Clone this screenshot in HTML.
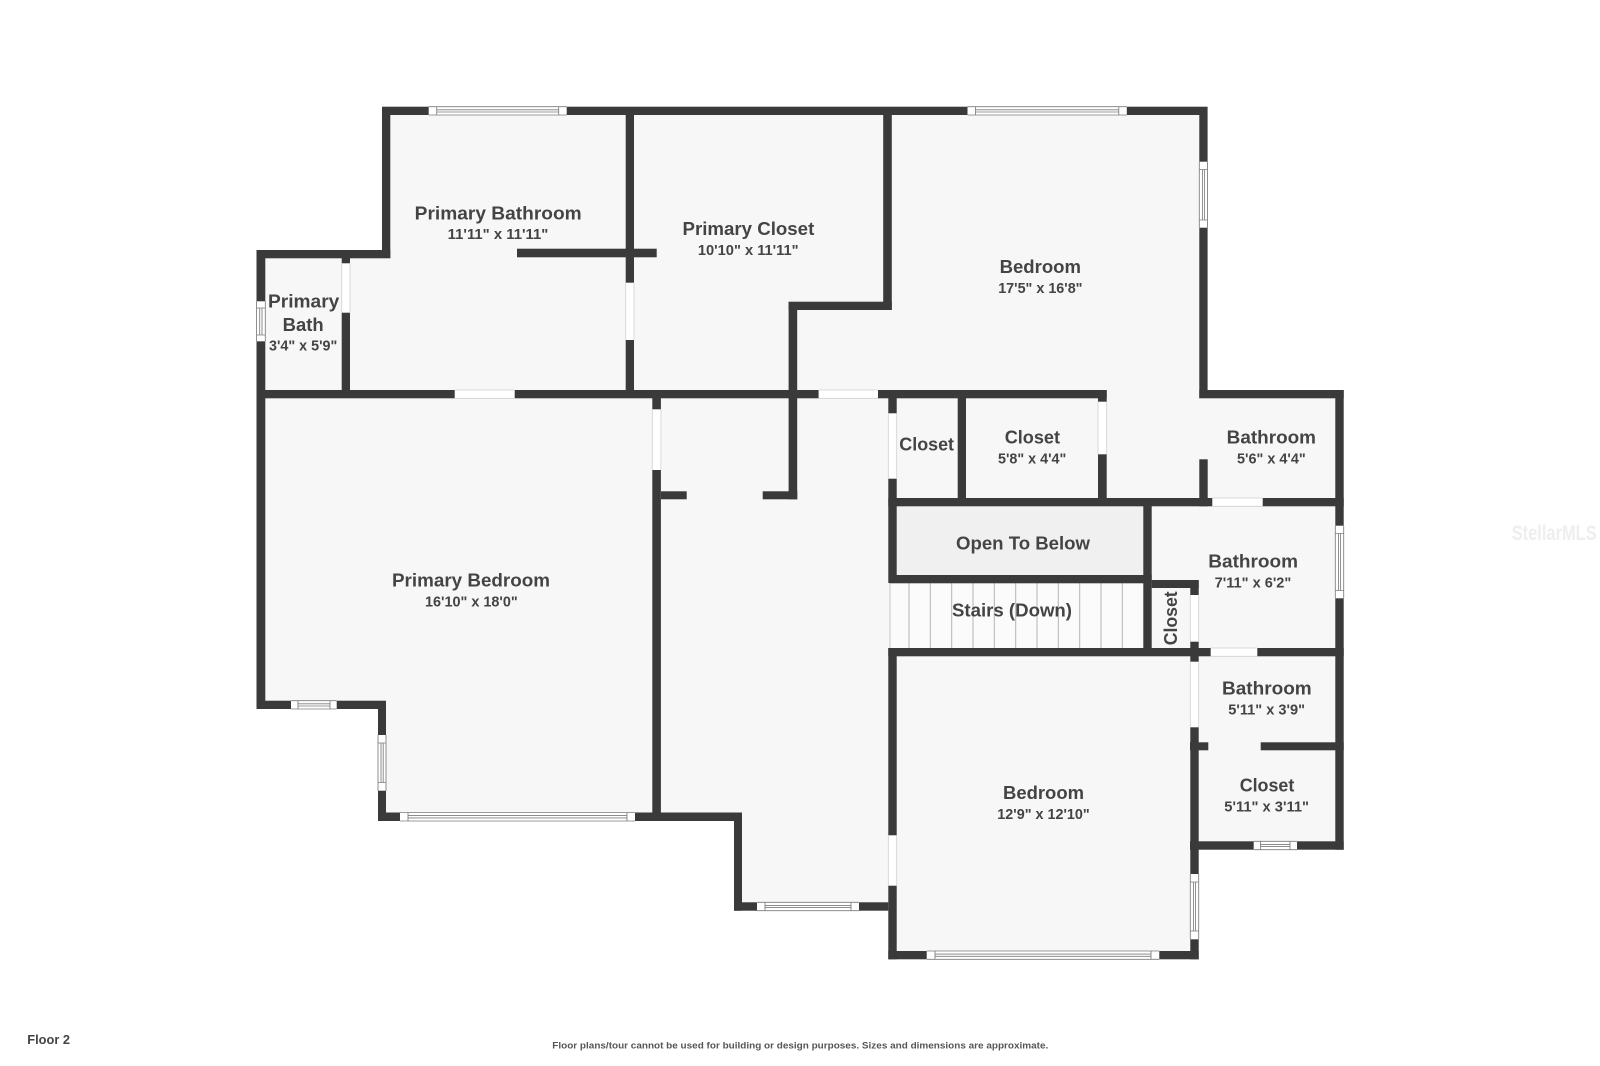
<!DOCTYPE html>
<html>
<head>
<meta charset="utf-8">
<style>
html,body{margin:0;padding:0;background:#fff;}
svg{display:block;filter:blur(.35px);}
text{font-family:"Liberation Sans",sans-serif;font-weight:700;fill:#444;}
.l{font-size:18.2px;}
.s{font-size:14.5px;}
</style>
</head>
<body>
<svg width="1600" height="1066" viewBox="0 0 1600 1066" xmlns="http://www.w3.org/2000/svg">
<rect width="1600" height="1066" fill="#fff"/>
<!-- floor -->
<polygon fill="#f7f7f7" points="382,107 1207.5,107 1207.5,390 1343.7,390 1343.7,849.7 1198.7,849.7 1198.7,959.3 888.3,959.3 888.3,910.7 734,910.7 734,821 378,821 378,709 256.5,709 256.5,250 382,250"/>
<!-- open to below -->
<rect x="896" y="506" width="248" height="70" fill="#f0f0f0"/>
<!-- stairs -->
<rect x="890" y="583" width="254" height="66" fill="#fbfbfb"/>
<path fill="none" stroke="#b4b4b4" stroke-width="1" d="M909 583V648M930.3 583V648M951.7 583V648M973 583V648M994.3 583V648M1015.7 583V648M1037 583V648M1058.3 583V648M1079.7 583V648M1101 583V648M1122.3 583V648"/>
<path fill="none" stroke="#c4c4c4" stroke-width="1" d="M890 583V648"/>
<!-- walls -->
<g fill="#3a3a3a">
<rect x="382" y="106.7" width="825.5" height="8.3"/>
<rect x="256.5" y="250" width="133.8" height="8.3"/>
<rect x="517" y="248.7" width="139.7" height="8.6"/>
<rect x="256.5" y="390" width="850.2" height="8.3"/>
<rect x="1199.3" y="390" width="144.4" height="8.3"/>
<rect x="888.3" y="498" width="455.4" height="8.3"/>
<rect x="890" y="575" width="261.7" height="8.3"/>
<rect x="1151.7" y="580" width="47" height="8"/>
<rect x="888.3" y="648" width="455.4" height="8.3"/>
<rect x="661" y="491.3" width="25.7" height="8"/>
<rect x="762.7" y="491.3" width="34.6" height="8"/>
<rect x="256.5" y="700.7" width="129.5" height="8.3"/>
<rect x="378" y="812.5" width="364" height="8.5"/>
<rect x="734" y="902.3" width="154.3" height="8.4"/>
<rect x="888.3" y="951" width="310.4" height="8.3"/>
<rect x="1190" y="742.3" width="18.3" height="8"/>
<rect x="1260.7" y="742.3" width="83" height="8"/>
<rect x="1190" y="841.3" width="153.7" height="8.4"/>
<rect x="788.6" y="301.7" width="103.2" height="8.3"/>

<rect x="382" y="107" width="8.3" height="151"/>
<rect x="256.5" y="250" width="8.8" height="459"/>
<rect x="341.7" y="258" width="8.3" height="136"/>
<rect x="625.7" y="107" width="8.3" height="291"/>
<rect x="652.3" y="390" width="8.6" height="431"/>
<rect x="883.2" y="107" width="8.6" height="203"/>
<rect x="788.6" y="302" width="8.6" height="197.3"/>
<rect x="888.3" y="390" width="8.4" height="193"/>
<rect x="888.3" y="648" width="8.4" height="311.3"/>
<rect x="957.7" y="390" width="8.3" height="116"/>
<rect x="1098" y="390" width="8.7" height="116"/>
<rect x="1199.3" y="107" width="8.3" height="291"/>
<rect x="1199.3" y="459.3" width="8.4" height="47"/>
<rect x="1335.3" y="390" width="8.4" height="459.7"/>
<rect x="1143.3" y="498" width="8.4" height="158"/>
<rect x="1190.3" y="580" width="8.4" height="379.3"/>
<rect x="734" y="812.5" width="8" height="98.2"/>
<rect x="378" y="701" width="8" height="120"/>
</g>
<!-- doors -->
<g fill="#fff">
<rect x="454.7" y="390" width="60" height="8.3"/>
<rect x="818.6" y="390" width="59.4" height="8.3"/>
<rect x="1212.3" y="498" width="50.4" height="8.3"/>
<rect x="1210.7" y="648" width="46.6" height="8.3"/>
<rect x="341.7" y="263.3" width="8.3" height="49.4"/>
<rect x="625.7" y="282.7" width="8.3" height="57.3"/>
<rect x="652.3" y="409.3" width="8.6" height="60.7"/>
<rect x="888.3" y="413.3" width="8.4" height="65.4"/>
<rect x="1098" y="401.7" width="8.7" height="52.6"/>
<rect x="888.3" y="835.3" width="8.4" height="50.4"/>
<rect x="1190.3" y="595" width="8.4" height="46.7"/>
<rect x="1190.3" y="661.7" width="8.4" height="65.6"/>
</g>
<path fill="none" stroke="#d0d0d0" stroke-width=".8" d="M454.7 390H514.7M454.7 398.3H514.7M818.6 390H878M818.6 398.3H878M1212.3 498H1262.7M1212.3 506.3H1262.7M1210.7 648H1257.3M1210.7 656.3H1257.3M341.7 263.3V312.7M350 263.3V312.7M625.7 282.7V340M634 282.7V340M652.3 409.3V470M660.9 409.3V470M888.3 413.3V478.7M896.7 413.3V478.7M1098 401.7V454.3M1106.7 401.7V454.3M888.3 835.3V885.7M896.7 835.3V885.7M1190.3 595V641.7M1198.7 595V641.7M1190.3 661.7V727.3M1198.7 661.7V727.3"/>
<!-- windows -->
<g fill="#fff">
<rect x="428.7" y="106.7" width="138" height="8.3"/>
<rect x="967.5" y="106.7" width="159.3" height="8.3"/>
<rect x="291" y="700.7" width="45.7" height="8.3"/>
<rect x="400" y="812.5" width="235" height="8.5"/>
<rect x="757" y="902.3" width="102" height="8.4"/>
<rect x="926.7" y="951" width="232.6" height="8.3"/>
<rect x="1253.7" y="841.3" width="43.3" height="8.4"/>
<rect x="256.5" y="301.3" width="8.8" height="40"/>
<rect x="1199.3" y="161.7" width="8.2" height="66"/>
<rect x="378" y="735" width="8" height="55.7"/>
<rect x="1335.3" y="525.7" width="8.4" height="72.6"/>
<rect x="1190.3" y="874" width="8.4" height="65.3"/>
</g>
<path fill="none" stroke="#7c7c7c" stroke-width=".85" d="
M428.7 106.7H566.7M428.7 115H566.7M436.7 106.7V115M558.7 106.7V115M436.7 109.8H558.7M436.7 112H558.7
M967.5 106.7H1126.8M967.5 115H1126.8M975.5 106.7V115M1118.8 106.7V115M975.5 109.8H1118.8M975.5 112H1118.8
M291 700.7H336.7M291 709H336.7M298 700.7V709M330 700.7V709M298 703.8H330M298 706H330
M400 812.5H635M400 821H635M408 812.5V821M627 812.5V821M408 815.6H627M408 817.9H627
M757 902.3H859M757 910.7H859M765 902.3V910.7M851 902.3V910.7M765 905.4H851M765 907.6H851
M926.7 951H1159.3M926.7 959.3H1159.3M935 951V959.3M1151 951V959.3M935 954.1H1151M935 956.3H1151
M1253.7 841.3H1297M1253.7 849.7H1297M1260.5 841.3V849.7M1290 841.3V849.7M1260.5 844.4H1290M1260.5 846.6H1290
M256.5 301.3V341.3M265.3 301.3V341.3M256.5 308H265.3M256.5 335H265.3M259.7 308V335M262 308V335
M1199.3 161.7V227.7M1207.5 161.7V227.7M1199.3 169.5H1207.5M1199.3 220H1207.5M1202.4 169.5V220M1204.6 169.5V220
M378 735V790.7M386 735V790.7M378 743H386M378 782.5H386M381 743V782.5M383.2 743V782.5
M1335.3 525.7V598.3M1343.7 525.7V598.3M1335.3 533.5H1343.7M1335.3 590.5H1343.7M1338.4 533.5V590.5M1340.6 533.5V590.5
M1190.3 874V939.3M1198.7 874V939.3M1190.3 882H1198.7M1190.3 931H1198.7M1193.4 882V931M1195.6 882V931"/>
<!-- labels -->
<text class="l" x="414.7" y="219.3" textLength="167" lengthAdjust="spacingAndGlyphs">Primary Bathroom</text>
<text class="s" x="447.7" y="239" textLength="100.6" lengthAdjust="spacingAndGlyphs">11'11" x 11'11"</text>
<text class="l" x="268" y="307.7" textLength="71.3" lengthAdjust="spacingAndGlyphs">Primary</text>
<text class="l" x="282.7" y="331" textLength="41" lengthAdjust="spacingAndGlyphs">Bath</text>
<text class="s" x="269" y="350.7" textLength="68.3" lengthAdjust="spacingAndGlyphs">3'4" x 5'9"</text>
<text class="l" x="682.5" y="235" textLength="131.8" lengthAdjust="spacingAndGlyphs">Primary Closet</text>
<text class="s" x="697.9" y="255" textLength="100.7" lengthAdjust="spacingAndGlyphs">10'10" x 11'11"</text>
<text class="l" x="999.6" y="273" textLength="81.4" lengthAdjust="spacingAndGlyphs">Bedroom</text>
<text class="s" x="998.2" y="293" textLength="84.3" lengthAdjust="spacingAndGlyphs">17'5" x 16'8"</text>
<text class="l" x="899.3" y="450.3" textLength="54.7" lengthAdjust="spacingAndGlyphs">Closet</text>
<text class="l" x="1004.7" y="443.7" textLength="55.3" lengthAdjust="spacingAndGlyphs">Closet</text>
<text class="s" x="998" y="463.7" textLength="68.3" lengthAdjust="spacingAndGlyphs">5'8" x 4'4"</text>
<text class="l" x="1226.7" y="443.7" textLength="89.3" lengthAdjust="spacingAndGlyphs">Bathroom</text>
<text class="s" x="1237" y="463.7" textLength="68.7" lengthAdjust="spacingAndGlyphs">5'6" x 4'4"</text>
<text class="l" x="956" y="549.3" textLength="134" lengthAdjust="spacingAndGlyphs">Open To Below</text>
<text class="l" x="1208.3" y="567.7" textLength="89.7" lengthAdjust="spacingAndGlyphs">Bathroom</text>
<text class="s" x="1214.7" y="587.3" textLength="76.6" lengthAdjust="spacingAndGlyphs">7'11" x 6'2"</text>
<text class="l" x="952" y="616.7" textLength="120" lengthAdjust="spacingAndGlyphs">Stairs (Down)</text>
<text class="l" transform="translate(1177 645.3) rotate(-90)" x="0" y="0" textLength="54" lengthAdjust="spacingAndGlyphs">Closet</text>
<text class="l" x="392" y="586.7" textLength="158" lengthAdjust="spacingAndGlyphs">Primary Bedroom</text>
<text class="s" x="425" y="606.7" textLength="92.7" lengthAdjust="spacingAndGlyphs">16'10" x 18'0"</text>
<text class="l" x="1222" y="694.7" textLength="89.7" lengthAdjust="spacingAndGlyphs">Bathroom</text>
<text class="s" x="1228.3" y="714.3" textLength="76.7" lengthAdjust="spacingAndGlyphs">5'11" x 3'9"</text>
<text class="l" x="1239.7" y="791.7" textLength="54.6" lengthAdjust="spacingAndGlyphs">Closet</text>
<text class="s" x="1224.3" y="811.3" textLength="84.7" lengthAdjust="spacingAndGlyphs">5'11" x 3'11"</text>
<text class="l" x="1003" y="799" textLength="81" lengthAdjust="spacingAndGlyphs">Bedroom</text>
<text class="s" x="997.3" y="819" textLength="92.4" lengthAdjust="spacingAndGlyphs">12'9" x 12'10"</text>
<!-- footer -->
<text x="27.3" y="1044" font-size="13" textLength="42.7" lengthAdjust="spacingAndGlyphs">Floor 2</text>
<text x="552.3" y="1048.3" font-size="9.6" style="fill:#555" textLength="496" lengthAdjust="spacingAndGlyphs">Floor plans/tour cannot be used for building or design purposes. Sizes and dimensions are approximate.</text>
<!-- watermark -->
<text x="1511.7" y="540" font-size="21" style="fill:#eeeeee;font-weight:700" textLength="85" lengthAdjust="spacingAndGlyphs">StellarMLS</text>
</svg>
</body>
</html>
